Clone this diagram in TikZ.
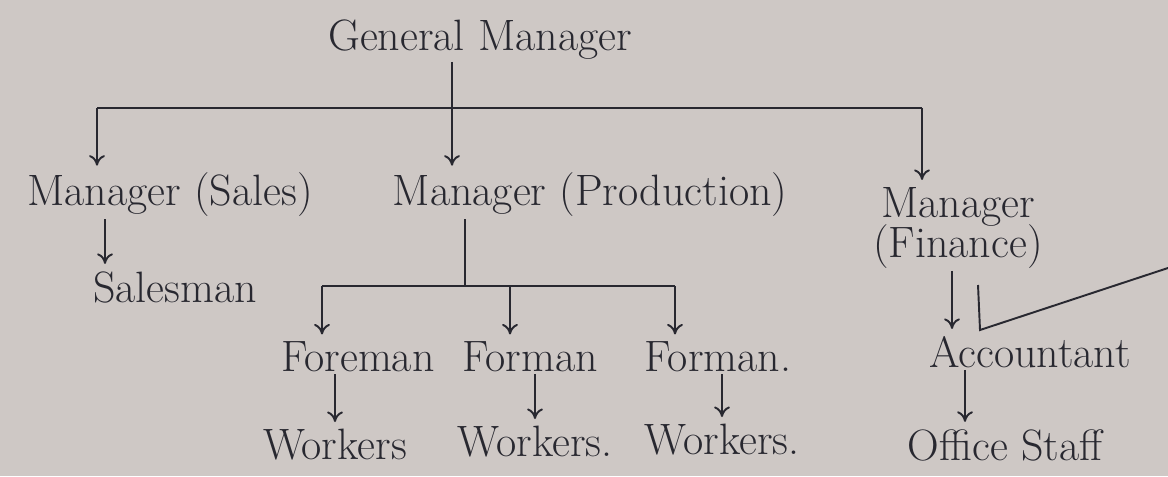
\documentclass[tikz,border=0pt]{standalone}
\usetikzlibrary{arrows.meta}
\definecolor{paper}{RGB}{206,200,197}
\definecolor{ink}{RGB}{40,40,48}
\tikzset{post/.style={font=\fontsize{25}{29}\selectfont, text=ink, inner sep=1pt},
         link/.style={draw=ink, line width=1.1pt},
         arr/.style={link, shorten >=3pt, -{To[length=6pt,width=9pt]}}}

\begin{document}
\begin{tikzpicture}[x=0.02cm,y=-0.02cm]
    \useasboundingbox (0,0) rectangle (1168,476);
    \fill[paper] (0,0) rectangle (1168,476);

    \node[post] (gm) at (480,40) {General Manager};

    \node[post] (sales) at (170,195) {Manager (Sales)};
    \node[post] (prod) at (590,195) {Manager (Production)};
    \node[post, align=center] (fin) at (958,228) {Manager\\[-6pt](Finance)};

            \coordinate (busW) at (97,108);
            \coordinate (busE) at (922,108);
            \coordinate (gmdrop) at (452,108);
            \draw[link] (busW) -- (busE);
            \draw[link] (gm.south -| gmdrop) -- (gmdrop);
            \draw[arr] (gmdrop) -- (gmdrop |- prod.north);
            \draw[arr] (busW) -- (busW |- sales.north);
            \draw[arr] (busE) -- (busE |- fin.north);

    \node[post] (salesman) at (175,287) {Salesman};
            \coordinate (s1) at (105,0);
            \draw[arr] (sales.south -| s1) -- (salesman.north -| s1);

    \node[post] (fore1) at (358,357) {Foreman};
    \node[post] (fore2) at (530,357) {Forman};
    \node[post] (fore3) at (718,357) {Forman.};

            \coordinate (pdrop) at (465,286);
            \coordinate (pbW) at (322,286);
            \coordinate (pbM) at (510,286);
            \coordinate (pbE) at (675,286);
            \draw[link] (prod.south -| pdrop) -- (pdrop);
            \draw[link] (pbW) -- (pbE);
            \draw[arr] (pbW) -- (pbW |- fore1.north);
            \draw[arr] (pbM) -- (pbM |- fore2.north);
            \draw[arr] (pbE) -- (pbE |- fore3.north);

    \node[post] (work1) at (335,445) {Workers};
    \node[post] (work2) at (535,442) {Workers.};
    \node[post] (work3) at (722,440) {Workers.};

            \draw[arr] (work1 |- fore1.south) -- (work1.north);
            \draw[arr] (work2 |- fore2.south) -- (work2.north);
            \draw[arr] (work3 |- fore3.south) -- (work3.north);

    \node[post] (acc) at (1030,352) {Accountant};
    \node[post] (staff) at (1005,445) {Office Staff};

            \coordinate (a1) at (952,0);
            \coordinate (a2) at (965,0);
            \draw[arr] (fin.south -| a1) -- (acc.north -| a1);
            \draw[arr] (acc.south -| a2) -- (staff.north -| a2);

            % stray stroke beside the accountant
            \draw[link] (978,285) -- (980,330) -- (1168,268);
\end{tikzpicture}
\end{document}
